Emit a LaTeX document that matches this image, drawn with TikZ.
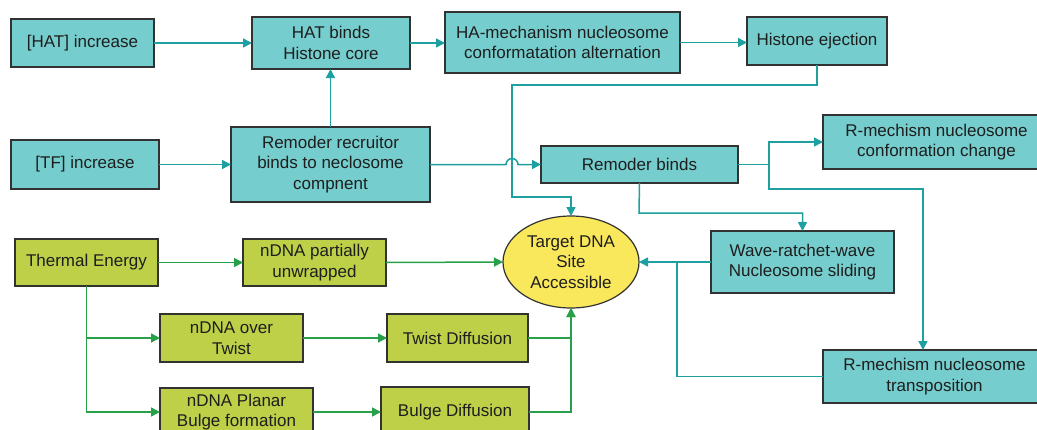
\documentclass[tikz,border=0pt]{standalone}
\usepackage{fontspec}
\setmainfont{Liberation Sans}
\usetikzlibrary{arrows.meta,shapes.geometric}
\definecolor{tealfill}{RGB}{118,205,205}
\definecolor{tealline}{RGB}{30,160,160}
\definecolor{greenfill}{RGB}{189,208,72}
\definecolor{greenline}{RGB}{40,160,74}
\definecolor{yellowfill}{RGB}{250,232,92}
\definecolor{bordercol}{RGB}{50,50,50}
\definecolor{textcol}{RGB}{30,30,30}
\begin{document}
\begin{tikzpicture}[x=1pt,y=-1pt,
  basebox/.style={draw=bordercol,line width=1.2pt,inner sep=0pt,outer sep=0pt,align=center,
    text=textcol,font=\fontsize{17}{20.5}\selectfont},
  tbox/.style={basebox,fill=tealfill},
  gbox/.style={basebox,fill=greenfill},
  tline/.style={draw=tealline,line width=1.5pt},
  gline/.style={draw=greenline,line width=1.5pt},
  tarrow/.style={tline,-{Triangle[length=9pt,width=9pt]}},
  garrow/.style={gline,-{Triangle[length=9pt,width=9pt]}}]
\useasboundingbox (0,0) rectangle (1037,429);
\clip (0,0) rectangle (1037,429);
\fill[white] (0,0) rectangle (1037,429);
% teal boxes
\node[tbox,minimum width=143pt,minimum height=48pt] (hat) at (82.5,43) {[HAT] increase};
\node[tbox,minimum width=158pt,minimum height=52pt] (hatb) at (331,43) {HAT binds\\Histone core};
\node[tbox,minimum width=235pt,minimum height=61pt] (ham) at (562.5,42.5) {HA-mechanism nucleosome\\conformatation alternation};
\node[tbox,minimum width=140pt,minimum height=48pt] (hej) at (817,41) {Histone ejection};
\node[tbox,minimum width=148pt,minimum height=49pt] (tf) at (85,164.5) {[TF] increase};
\node[tbox,minimum width=199pt,minimum height=75pt] (rrec) at (330.5,164.5) {Remoder recruitor\\binds to neclosome\\compnent};
\node[tbox,minimum width=197pt,minimum height=37pt] (rb) at (639.5,164.5) {Remoder binds};
\node[tbox,minimum width=227pt,minimum height=54pt] (rconf) at (936.5,142) {R-mechism nucleosome\\conformation change};
\node[tbox,minimum width=183pt,minimum height=62pt] (wave) at (802.5,262) {Wave-ratchet-wave\\Nucleosome sliding};
\node[tbox,minimum width=223pt,minimum height=53pt] (rtrans) at (934.5,376.5) {R-mechism nucleosome\\transposition};
% green boxes
\node[gbox,minimum width=143pt,minimum height=47pt] (te) at (86.5,262.5) {Thermal Energy};
\node[gbox,minimum width=143pt,minimum height=47pt] (npu) at (314.5,262.5) {nDNA partially\\unwrapped};
\node[gbox,minimum width=143pt,minimum height=48pt] (not) at (231.5,338) {nDNA over\\Twist};
\node[gbox,minimum width=141pt,minimum height=48pt] (twd) at (457.5,338) {Twist Diffusion};
\node[gbox,minimum width=153pt,minimum height=48pt] (npb) at (236.5,412) {nDNA Planar\\Bulge formation};
\node[gbox,minimum width=148pt,minimum height=50pt] (bd) at (455,412) {Bulge Diffusion};
% ellipse
\node[basebox,ellipse,fill=yellowfill,minimum width=136pt,minimum height=92pt] (ell) at (571,262) {Target DNA\\Site\\Accessible};
% coordinates
\coordinate (c1) at (512,85);
\coordinate (c2) at (512,197);
\coordinate (c3) at (769,164.5);
\coordinate (c4) at (769,189);
\coordinate (c5) at (923,189);
\coordinate (c6) at (639,213);
\coordinate (c7) at (677,262);
\coordinate (hop) at (512,164.5);
% teal connectors
\draw[tarrow] (hat) -- (hatb);
\draw[tarrow] (hatb.east) -- (hatb.east -| ham.west);
\draw[tarrow] (ham.east) -- (ham.east -| hej.west);
\draw[tarrow] (rrec.north) -- (rrec.north |- hatb.south);
\draw[tarrow] (tf) -- (rrec);
\draw[tarrow] (hej.south) |- (c1) -- (c2) -| (ell.north);
\draw[tarrow] (rrec.east) -- ([xshift=-6pt]hop) arc[start angle=180,end angle=0,radius=6pt] -- (rb.west);
\draw[tarrow] (rb.east) -- (c3) |- (rconf.west);
\draw[tarrow] (c3) -- (c4) -- (c5) -- (c5 |- rtrans.north);
\draw[tarrow] (rb.south) -- (c6) -| (wave.north);
\draw[tarrow] (wave.west) -- (ell.east);
\draw[tline] (rtrans.west) -| (c7);
% green connectors
\draw[garrow] (te) -- (npu);
\draw[garrow] (npu.east) -- (ell.west);
\draw[garrow] (te.south) |- (not.west);
\draw[garrow] (te.south) |- (npb.west);
\draw[garrow] (not) -- (twd);
\draw[garrow] (npb) -- (bd);
\draw[garrow] (twd.east) -| (ell.south);
\draw[garrow] (bd.east) -| (ell.south);
\end{tikzpicture}
\end{document}
